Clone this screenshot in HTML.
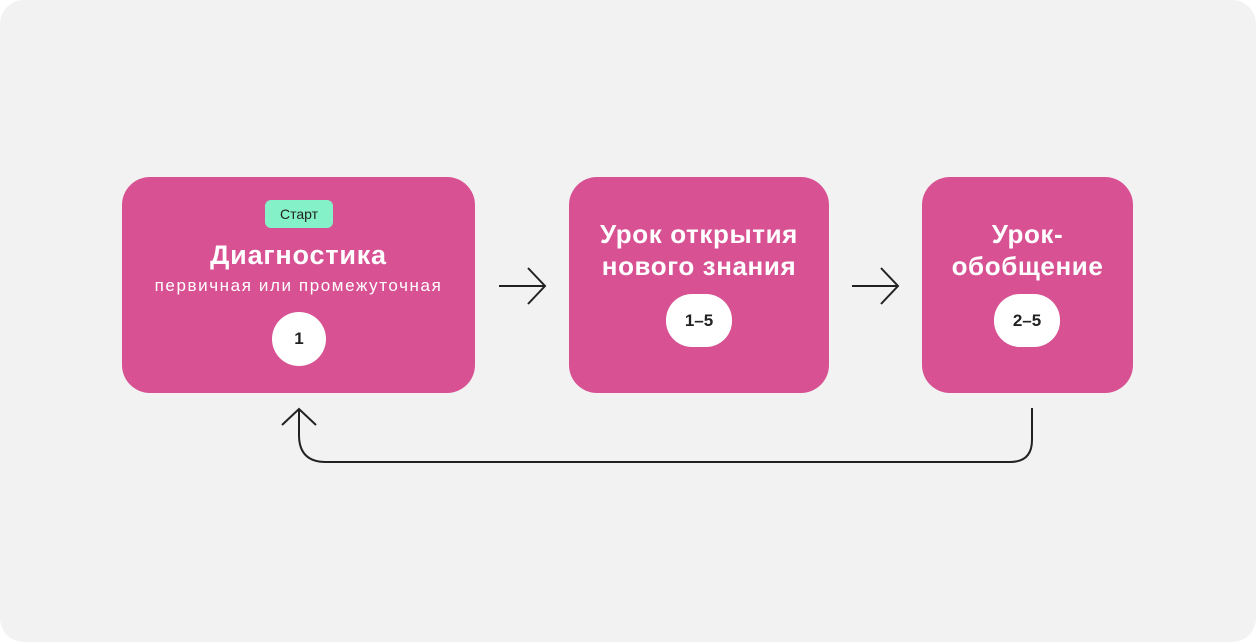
<!DOCTYPE html>
<html><head><meta charset="utf-8"><style>
*{margin:0;padding:0;box-sizing:border-box}
body{width:1256px;height:642px;background:#fff;position:relative;font-family:"Liberation Sans","DejaVu Sans",sans-serif;overflow:hidden}
.bg{position:absolute;left:0;top:0;width:1256px;height:642px;background:#f2f2f2;border-radius:24px}
.box{position:absolute;top:177px;height:216px;background:#d75193;border-radius:28px}
.t{position:absolute;left:-20px;right:-20px;text-align:center;color:#fff;font-weight:bold;font-size:26px;line-height:32px;letter-spacing:0.6px}
.s{position:absolute;left:-20px;right:-20px;text-align:center;color:#fff;font-size:17px;letter-spacing:1.6px}
.pill{position:absolute;background:#fff;color:#222;font-weight:bold;font-size:17px;text-align:center}
</style></head><body>
<div class="bg"></div>
<div class="box" style="left:122px;width:353px">
  <div style="position:absolute;left:143px;top:23px;width:68px;height:28px;background:#84f1c8;border-radius:6px;font-size:14px;line-height:28px;text-align:center;color:#222">Старт</div>
  <div class="t" style="top:62px;font-size:27px;letter-spacing:0.8px">Диагностика</div>
  <div class="s" style="top:99px">первичная или промежуточная</div>
  <div class="pill" style="left:150px;top:135px;width:54px;height:54px;border-radius:27px;line-height:54px">1</div>
</div>
<div class="box" style="left:569px;width:260px">
  <div class="t" style="top:41px">Урок открытия<br>нового знания</div>
  <div class="pill" style="left:97px;top:117px;width:66px;height:53px;border-radius:26px;line-height:53px">1–5</div>
</div>
<div class="box" style="left:922px;width:211px">
  <div class="t" style="top:41px">Урок-<br>обобщение</div>
  <div class="pill" style="left:72px;top:117px;width:66px;height:53px;border-radius:26px;line-height:53px">2–5</div>
</div>
<svg width="1256" height="642" style="position:absolute;left:0;top:0" fill="none" stroke="#222" stroke-width="2">
  <path d="M499 286H545M528 268L545 286L528 304"/>
  <path d="M852 286H898M881 268L898 286L881 304"/>
  <path d="M1032 408V440Q1032 462 1010 462H326Q299 462 299 435V409M282 425L299 409L316 425"/>
</svg>
</body></html>
